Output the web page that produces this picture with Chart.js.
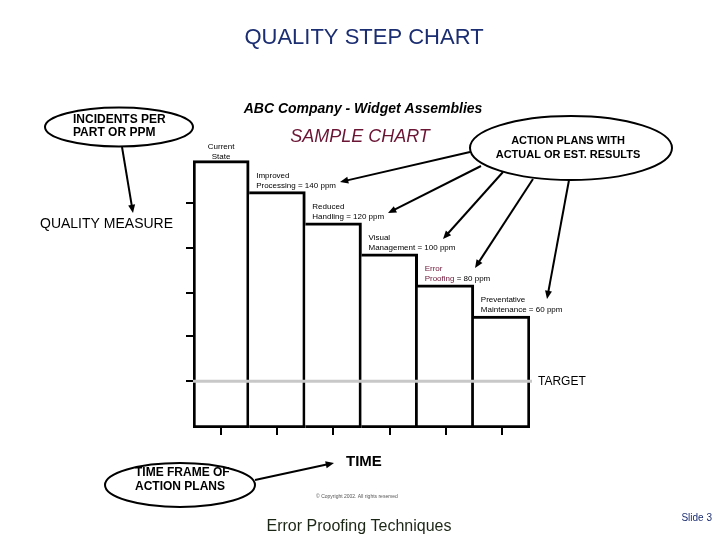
<!DOCTYPE html>
<html>
<head>
<meta charset="utf-8">
<script src="https://cdn.jsdelivr.net/npm/chart.js@4/dist/chart.umd.min.js"></script>
<style>
  html, body { margin: 0; padding: 0; background: #fff; }
  canvas { display: block; }
</style>
</head>
<body>
<canvas id="stepChart" width="720" height="540"></canvas>
<script>
'use strict'

// step values (ppm)
const stepNames = ['Current State', 'Improved Processing', 'Reduced Handling', 'Visual Management', 'Error Proofing', 'Preventative Maintenance']
const ppmValues = [160, 140, 120, 100, 80, 60]
const showValue = [false, true, true, true, true, true]
const targetPpm = 18
const yTickValues = [18, 47, 75, 104, 133]
const yMin = -12
const yMax = 170

const FONT = '"Liberation Sans", Arial, sans-serif'
const NAVY = '#1c2e72'
const MAROON = '#6b1535'

const arrow = function (ctx, x1, y1, x2, y2) {
  const a = Math.atan2(y2 - y1, x2 - x1)
  const len = 9
  ctx.beginPath()
  ctx.moveTo(x1, y1)
  ctx.lineTo(x2 - Math.cos(a) * 4, y2 - Math.sin(a) * 4)
  ctx.stroke()
  ctx.beginPath()
  ctx.moveTo(x2, y2)
  ctx.lineTo(x2 - len * Math.cos(a - 0.4), y2 - len * Math.sin(a - 0.4))
  ctx.lineTo(x2 - len * Math.cos(a + 0.4), y2 - len * Math.sin(a + 0.4))
  ctx.closePath()
  ctx.fill()
}

const ellipse = function (ctx, cx, cy, rx, ry) {
  ctx.beginPath()
  ctx.ellipse(cx, cy, rx, ry, 0, 0, Math.PI * 2)
  ctx.fillStyle = '#fff'
  ctx.fill()
  ctx.stroke()
  ctx.fillStyle = '#000'
}

const text = function (ctx, str, x, y, font, color, align) {
  ctx.font = font
  ctx.fillStyle = color || '#000'
  ctx.textAlign = align || 'left'
  ctx.textBaseline = 'middle'
  ctx.fillText(str, x, y)
}

const decorations = {
  id: 'decorations',
  afterDatasetsDraw(chart) {
    const ctx = chart.ctx
    const area = chart.chartArea
    const yScale = chart.scales.y
    const ty = yScale.getPixelForValue(targetPpm)
    ctx.save()
    ctx.strokeStyle = '#c8c8c8'
    ctx.lineWidth = 3
    ctx.beginPath()
    ctx.moveTo(area.left, ty)
    ctx.lineTo(area.right + 2, ty)
    ctx.stroke()
    ctx.restore()
  },
  afterDraw(chart) {
    const ctx = chart.ctx
    const bars = chart.getDatasetMeta(0).data
    const yScale = chart.scales.y
    ctx.save()

    // labels above each step
    const small = '8px ' + FONT
    bars.forEach((bar, i) => {
      const words = stepNames[i].split(' ')
      const left = bar.x - bar.width / 2 + 7
      if (!showValue[i]) {
        text(ctx, words[0], bar.x, bar.y - 14, small, '#000', 'center')
        text(ctx, words[1], bar.x, bar.y - 4, small, '#000', 'center')
        return
      }
      const tail = ' = ' + ppmValues[i] + ' ppm'
      const colour = i === 4 ? MAROON : '#000'
      text(ctx, words[0], left, bar.y - 16, small, colour)
      text(ctx, words[1], left, bar.y - 6, small, colour)
      const w = ctx.measureText(words[1]).width
      text(ctx, tail, left + w, bar.y - 6, small, '#000')
    })

    text(ctx, 'TARGET', chart.chartArea.right + 8, yScale.getPixelForValue(targetPpm), '12px ' + FONT)

    // titles
    text(ctx, 'QUALITY STEP CHART', 364, 38, '22px ' + FONT, NAVY, 'center')
    text(ctx, 'ABC Company - Widget Assemblies', 363, 109, 'italic bold 14px ' + FONT, '#000', 'center')
    text(ctx, 'SAMPLE CHART', 360, 137, 'italic 18px ' + FONT, MAROON, 'center')
    text(ctx, 'QUALITY MEASURE', 40, 224, '14px ' + FONT)
    text(ctx, 'TIME', 346, 462, 'bold 15px ' + FONT)
    text(ctx, '\u00a9 Copyright 2002. All rights reserved', 357, 497, '5px ' + FONT, '#555', 'center')
    text(ctx, 'Error Proofing Techniques', 359, 527, '16px ' + FONT, '#1c2616', 'center')
    text(ctx, 'Slide 3', 712, 518, '10px ' + FONT, NAVY, 'right')

    // callouts
    ctx.strokeStyle = '#000'
    ctx.fillStyle = '#000'
    ctx.lineWidth = 2
    arrow(ctx, 122, 147, 133, 213)
    arrow(ctx, 470, 152, 340, 182)
    arrow(ctx, 481, 166, 388, 213)
    arrow(ctx, 503, 172, 443, 239)
    arrow(ctx, 533, 179, 475, 268)
    arrow(ctx, 569, 180, 547, 299)
    arrow(ctx, 255, 480, 334, 463)

    ellipse(ctx, 119, 127, 74, 19.5)
    text(ctx, 'INCIDENTS PER', 73, 120, 'bold 12px ' + FONT)
    text(ctx, 'PART OR PPM', 73, 133, 'bold 12px ' + FONT)

    ctx.strokeStyle = '#000'
    ctx.lineWidth = 2
    ellipse(ctx, 571, 148, 101, 32)
    text(ctx, 'ACTION PLANS WITH', 568, 141, 'bold 11px ' + FONT, '#000', 'center')
    text(ctx, 'ACTUAL OR EST. RESULTS', 568, 155, 'bold 11px ' + FONT, '#000', 'center')

    ctx.strokeStyle = '#000'
    ctx.lineWidth = 2
    ellipse(ctx, 180, 485, 75, 22)
    text(ctx, 'TIME FRAME OF', 135, 473, 'bold 12px ' + FONT)
    text(ctx, 'ACTION PLANS', 135, 487, 'bold 12px ' + FONT)

    ctx.restore()
  }
}

const ctx = document.getElementById('stepChart')

new Chart(ctx, {
  type: 'bar',
  data: {
    labels: stepNames,
    datasets: [{
      data: ppmValues,
      base: yMin,
      backgroundColor: '#ffffff',
      borderColor: '#000000',
      borderWidth: c => ({ left: c.dataIndex === 0 ? 3 : 0, right: 3, top: 3, bottom: 3 }),
      borderSkipped: false,
      barPercentage: 1,
      categoryPercentage: 1
    }]
  },
  options: {
    responsive: false,
    animation: false,
    layout: { padding: { left: 186, right: 190, top: 145, bottom: 105 } },
    plugins: { legend: { display: false }, tooltip: { enabled: false } },
    scales: {
      x: {
        grid: { drawOnChartArea: false, offset: false, tickLength: 7, color: '#000', lineWidth: 2 },
        border: { display: false },
        ticks: { display: false }
      },
      y: {
        min: yMin,
        max: yMax,
        afterBuildTicks: s => { s.ticks = yTickValues.map(v => ({ value: v })) },
        grid: { drawOnChartArea: false, tickLength: 7, color: '#000', lineWidth: 2 },
        border: { display: false },
        ticks: { display: false }
      }
    }
  },
  plugins: [decorations]
})
</script>
</body>
</html>
